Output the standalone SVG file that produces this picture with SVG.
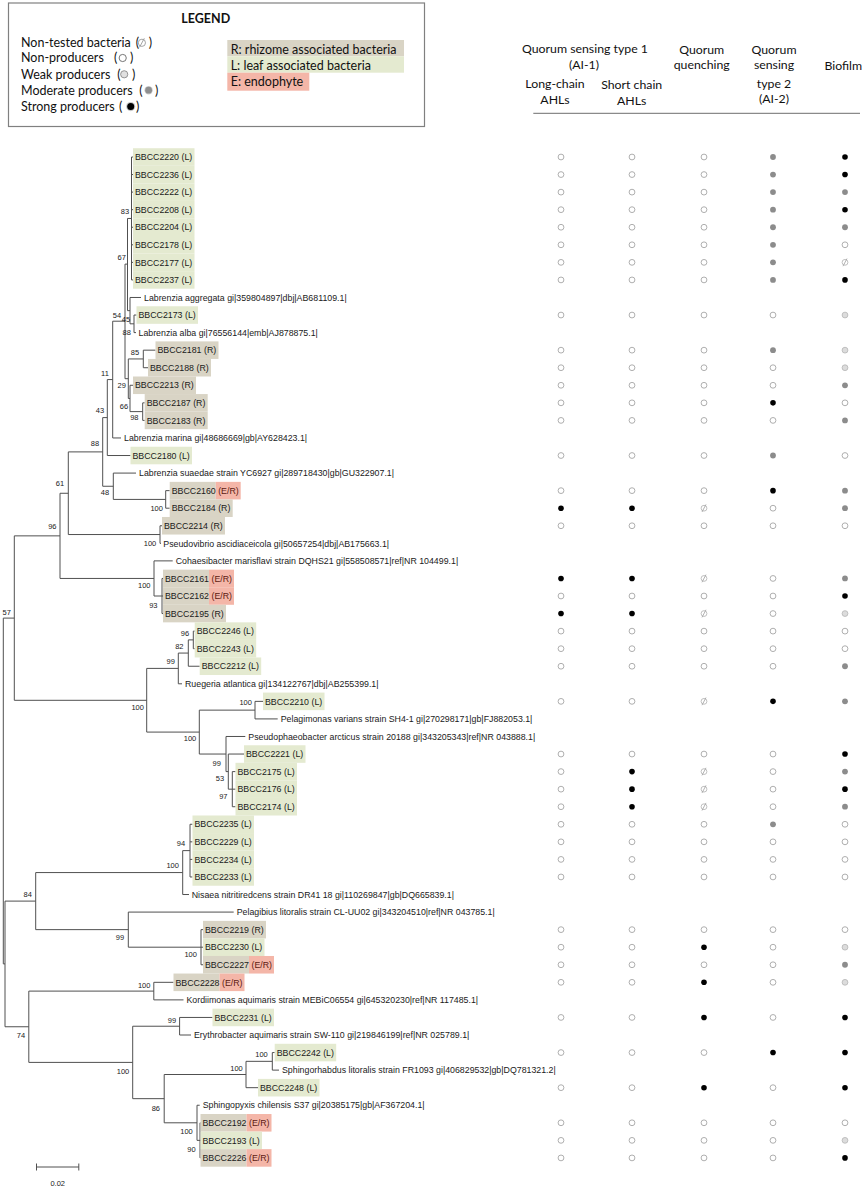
<svg xmlns="http://www.w3.org/2000/svg" xmlns:xlink="http://www.w3.org/1999/xlink" width="865" height="1191" viewBox="0 0 865 1191">
<style>
.hd{font-family:Lato,"Open Sans","Liberation Sans",sans-serif;font-size:12.3px;fill:#111;text-anchor:middle}
.lg{font-family:Lato,"Open Sans","Liberation Sans",sans-serif;font-size:12.5px;fill:#111}
.lf{font-family:"Liberation Sans",Arial,sans-serif;font-size:8.8px;fill:#1a1a1a}
.sp{font-family:"Liberation Sans",Arial,sans-serif;font-size:8.8px;fill:#1a1a1a}
.er{fill:#5c1a12}
.bs{font-family:"Liberation Sans",Arial,sans-serif;font-size:7.5px;fill:#1a1a1a;text-anchor:middle}
.bL{fill:#e4ead0}
.bR{fill:#d9d4c5}
.bE{fill:#f4b6a8}
.br{fill:none;stroke:#505050;stroke-width:1}
</style>
<defs>
<circle id="o" r="2.9" fill="#fff" stroke="#a6a6a6" stroke-width="0.9"/>
<circle id="w" r="2.9" fill="#dcdcdc" stroke="#b5b5b5" stroke-width="0.8"/>
<circle id="m" r="2.9" fill="#8c8c8c"/>
<circle id="s" r="2.8" fill="#000"/>
<g id="n"><circle r="2.9" fill="#fff" stroke="#b0b0b0" stroke-width="0.8"/><line x1="-2" y1="3.8" x2="2" y2="-3.8" stroke="#a0a0a0" stroke-width="0.8"/></g>
</defs>
<rect width="865" height="1191" fill="#fff"/>

<g id="legend">
<rect x="8.5" y="3" width="416" height="123.5" fill="#fff" stroke="#808080" stroke-width="1.2"/>
<text class="lg" x="205.7" y="23" text-anchor="middle" font-weight="bold">LEGEND</text>
<text class="lg" x="21" y="47">Non-tested bacteria</text><text class="lg" x="135.7" y="47">(</text><text class="lg" x="148.7" y="47">)</text>
<text class="lg" x="21" y="62">Non-producers</text><text class="lg" x="114" y="62">(</text><text class="lg" x="130" y="62">)</text>
<text class="lg" x="21" y="78.5">Weak producers</text><text class="lg" x="117.3" y="78.5">(</text><text class="lg" x="132" y="78.5">)</text>
<text class="lg" x="21" y="94.5">Moderate producers</text><text class="lg" x="139.3" y="94.5">(</text><text class="lg" x="155" y="94.5">)</text>
<text class="lg" x="21" y="111">Strong producers</text><text class="lg" x="119" y="111">(</text><text class="lg" x="136" y="111">)</text>
<g><circle cx="141.9" cy="42.8" r="3.6" fill="#fff" stroke="#9a9a9a" stroke-width="0.9"/><line x1="139.5" y1="47.3" x2="144.3" y2="38.3" stroke="#9a9a9a" stroke-width="0.9"/></g>
<circle cx="122.7" cy="58" r="3.6" fill="#fff" stroke="#777" stroke-width="1"/>
<circle cx="124.2" cy="74.3" r="3.6" fill="#e0e0e0" stroke="#8a8a8a" stroke-width="0.9"/>
<circle cx="148.6" cy="90.2" r="4.2" fill="#d0d0d0"/><circle cx="148.6" cy="90.2" r="3.4" fill="#8f8f8f"/>
<circle cx="130.7" cy="106.6" r="4.6" fill="#c8c8c8"/><circle cx="130.7" cy="106.6" r="3.5" fill="#000"/>
<rect class="bR" x="227.3" y="40" width="176.7" height="16.3"/>
<text class="lg" x="230.7" y="54">R: rhizome associated bacteria</text>
<rect class="bL" x="227.3" y="56.3" width="176.7" height="16.4"/>
<text class="lg" x="230.7" y="69.5">L: leaf associated bacteria</text>
<rect class="bE" x="227.3" y="72.7" width="82" height="18"/>
<text class="lg" x="230.7" y="86">E: endophyte</text>
</g>

<g id="header">
<text class="hd" x="585" y="53">Quorum sensing type 1</text>
<text class="hd" x="584" y="69">(AI-1)</text>
<text class="hd" x="555" y="87.5">Long-chain</text>
<text class="hd" x="555" y="104">AHLs</text>
<text class="hd" x="631.7" y="89">Short chain</text>
<text class="hd" x="631.7" y="105">AHLs</text>
<text class="hd" x="701.7" y="54">Quorum</text>
<text class="hd" x="701.7" y="68.5">quenching</text>
<text class="hd" x="774" y="53.5">Quorum</text>
<text class="hd" x="774" y="69">sensing</text>
<text class="hd" x="774" y="87.5">type 2</text>
<text class="hd" x="774" y="102.5">(AI-2)</text>
<text class="hd" x="843.3" y="70">Biofilm</text>
<line x1="533.3" y1="113.3" x2="860" y2="113.3" stroke="#8a8a8a" stroke-width="1.2"/>
</g>

<g id="connectors">
<path class="br" d="M3.3 618.1V963.9M3.3 618.1H14.3M3.3 963.9H5
M14.3 535.86V700.3M14.3 535.86H60M14.3 700.3H146.7
M60 493.27V578.44M60 493.27H68.3M60 578.44H154
M68.3 451.9V534.54M68.3 451.9H102.7M68.3 534.54H160
M102.7 417.6V486.25M102.7 417.6H107.3M102.7 486.25H113.3
M107.3 379.57V455.52M107.3 379.57H112.7M107.3 455.52H130.5
M112.7 321.19V437.96M112.7 321.19H125M112.7 437.96H121
M125 264.12V378.7M125 264.12H127.5M125 378.7H128.3
M127.5 218.46V310.65M127.5 218.46H131.5M127.5 310.65H130
M131.5 157V279.92M131.5 157H133M131.5 174.56H133M131.5 192.12H133M131.5 209.68H133M131.5 227.24H133M131.5 244.8H133M131.5 262.36H133M131.5 279.92H133
M130 297.48V323.82M130 297.48H141M130 323.82H134
M134 315.04V332.6M134 315.04H136.5M134 332.6H136
M128.3 358.94V398.45M128.3 358.94H143.3M128.3 398.45H130
M143.3 350.16V367.72M143.3 350.16H155.5M143.3 367.72H148
M130 385.28V411.62M130 385.28H133M130 411.62H142.7
M142.7 402.84V420.4M142.7 402.84H144.7M142.7 420.4H144.7
M113.3 473.08V499.42M113.3 473.08H136M113.3 499.42H165.7
M165.7 490.64V508.2M165.7 490.64H169.7M165.7 508.2H169.7
M160 525.76V543.32M160 525.76H162M160 543.32H161
M154 560.88V596M154 560.88H172.7M154 596H162
M162 578.44V613.56M162 578.44H163M162 596H163M162 613.56H163
M146.7 668.4V732.09M146.7 668.4H178.3M146.7 732.09H199.3
M178.3 653.07V683.8M178.3 653.07H188.3M178.3 683.8H182
M188.3 639.9V666.24M188.3 639.9H193.3M188.3 666.24H199.7
M193.3 631.12V648.68M193.3 631.12H194.7M193.3 648.68H194.7
M199.3 710.14V754.04M199.3 710.14H255M199.3 754.04H226
M255 701.36V718.92M255 701.36H263M255 718.92H277.7
M226 736.48V771.6M226 736.48H245.3M226 771.6H228.3
M228.3 754.04V789.16M228.3 754.04H244M228.3 789.16H232.3
M232.3 771.6V806.72M232.3 771.6H235.5M232.3 789.16H235.5M232.3 806.72H235.5
M5 901.1V1026.75M5 901.1H35.7M5 1026.75H28.8
M35.7 872.57V929.64M35.7 872.57H182.7M35.7 929.64H128.3
M182.7 850.62V894.52M182.7 850.62H190M182.7 894.52H189
M190 824.28V876.96M190 824.28H192.5M190 841.84H192.5M190 859.4H192.5M190 876.96H192.5
M128.3 912.08V947.2M128.3 912.08H233.7M128.3 947.2H201
M201 929.64V964.76M201 929.64H203M201 947.2H203M201 964.76H203
M28.8 991.1V1062.4M28.8 991.1H153.8M28.8 1062.4H132.7
M153.8 982.32V999.88M153.8 982.32H173.5M153.8 999.88H183.5
M132.7 1026.22V1098.66M132.7 1026.22H179.6M132.7 1098.66H164.2
M179.6 1017.44V1035M179.6 1017.44H212.5M179.6 1035H191
M164.2 1074.5V1122.8M164.2 1074.5H246M164.2 1122.8H197
M246 1061.34V1087.68M246 1061.34H272.3M246 1087.68H258
M272.3 1052.56V1070.12M272.3 1052.56H274.7M272.3 1070.12H279
M197 1105.24V1140.36M197 1105.24H199.7M197 1140.36H200
M200 1122.8V1157.92M200 1122.8H200.5M200 1140.36H200.5M200 1157.92H200.5"/>
</g>

<g id="bootstrap">
<text class="bs" x="125" y="214.2">83</text>
<text class="bs" x="121.7" y="259.9">67</text>
<text class="bs" x="117" y="318.4">54</text>
<text class="bs" x="126" y="322.4">45</text>
<text class="bs" x="126.7" y="335.4">88</text>
<text class="bs" x="135" y="354.7">85</text>
<text class="bs" x="105" y="375.8">11</text>
<text class="bs" x="121.7" y="388.1">29</text>
<text class="bs" x="124" y="409.2">66</text>
<text class="bs" x="134.3" y="419.7">98</text>
<text class="bs" x="100" y="412.7">43</text>
<text class="bs" x="95" y="446">88</text>
<text class="bs" x="60" y="486.4">61</text>
<text class="bs" x="105" y="495.2">48</text>
<text class="bs" x="156.7" y="511">100</text>
<text class="bs" x="52.3" y="528.6">96</text>
<text class="bs" x="150" y="546.1">100</text>
<text class="bs" x="144.3" y="588.3">100</text>
<text class="bs" x="153.3" y="607.6">93</text>
<text class="bs" x="6.7" y="614.6">57</text>
<text class="bs" x="185" y="635.7">96</text>
<text class="bs" x="179.3" y="649.2">82</text>
<text class="bs" x="170.7" y="664.3">99</text>
<text class="bs" x="137.7" y="710.3">100</text>
<text class="bs" x="245.7" y="705.2">100</text>
<text class="bs" x="190" y="741">100</text>
<text class="bs" x="216.7" y="765.6">99</text>
<text class="bs" x="220" y="781.4">53</text>
<text class="bs" x="223.3" y="799">97</text>
<text class="bs" x="181" y="846.4">94</text>
<text class="bs" x="172.7" y="867.5">100</text>
<text class="bs" x="27.7" y="897.3">84</text>
<text class="bs" x="120" y="939.5">99</text>
<text class="bs" x="190.7" y="957">100</text>
<text class="bs" x="144.2" y="987.8">100</text>
<text class="bs" x="172" y="1022.7">99</text>
<text class="bs" x="21" y="1037.8">74</text>
<text class="bs" x="261.5" y="1056.8">100</text>
<text class="bs" x="236.5" y="1071.2">100</text>
<text class="bs" x="123" y="1073.8">100</text>
<text class="bs" x="155.8" y="1110.7">86</text>
<text class="bs" x="186.5" y="1134.2">100</text>
<text class="bs" x="191.5" y="1151.6">90</text>
</g>

<g id="leaves">
<g id="leaf-BBCC2220"><rect class="bL" x="133" y="148.22" width="61.5" height="17.56"/><text class="lf" x="135" y="160.2">BBCC2220 (L)</text></g>
<g id="leaf-BBCC2236"><rect class="bL" x="133" y="165.78" width="61.5" height="17.56"/><text class="lf" x="135" y="177.76">BBCC2236 (L)</text></g>
<g id="leaf-BBCC2222"><rect class="bL" x="133" y="183.34" width="61.5" height="17.56"/><text class="lf" x="135" y="195.32">BBCC2222 (L)</text></g>
<g id="leaf-BBCC2208"><rect class="bL" x="133" y="200.9" width="61.5" height="17.56"/><text class="lf" x="135" y="212.88">BBCC2208 (L)</text></g>
<g id="leaf-BBCC2204"><rect class="bL" x="133" y="218.46" width="61.5" height="17.56"/><text class="lf" x="135" y="230.44">BBCC2204 (L)</text></g>
<g id="leaf-BBCC2178"><rect class="bL" x="133" y="236.02" width="61.5" height="17.56"/><text class="lf" x="135" y="248">BBCC2178 (L)</text></g>
<g id="leaf-BBCC2177"><rect class="bL" x="133" y="253.58" width="61.5" height="17.56"/><text class="lf" x="135" y="265.56">BBCC2177 (L)</text></g>
<g id="leaf-BBCC2237"><rect class="bL" x="133" y="271.14" width="61.5" height="17.56"/><text class="lf" x="135" y="283.12">BBCC2237 (L)</text></g>
<g id="leaf-aggregata"><text class="sp" x="144" y="300.68">Labrenzia aggregata gi|359804897|dbj|AB681109.1|</text></g>
<g id="leaf-BBCC2173"><rect class="bL" x="136.5" y="306.26" width="61.5" height="17.56"/><text class="lf" x="138.5" y="318.24">BBCC2173 (L)</text></g>
<g id="leaf-alba"><text class="sp" x="138.5" y="335.8">Labrenzia alba gi|76556144|emb|AJ878875.1|</text></g>
<g id="leaf-BBCC2181"><rect class="bR" x="155.5" y="341.38" width="63" height="17.56"/><text class="lf" x="157.5" y="353.36">BBCC2181 (R)</text></g>
<g id="leaf-BBCC2188"><rect class="bR" x="148" y="358.94" width="63" height="17.56"/><text class="lf" x="150" y="370.92">BBCC2188 (R)</text></g>
<g id="leaf-BBCC2213"><rect class="bR" x="133" y="376.5" width="63" height="17.56"/><text class="lf" x="135" y="388.48">BBCC2213 (R)</text></g>
<g id="leaf-BBCC2187"><rect class="bR" x="144.7" y="394.06" width="63" height="17.56"/><text class="lf" x="146.7" y="406.04">BBCC2187 (R)</text></g>
<g id="leaf-BBCC2183"><rect class="bR" x="144.7" y="411.62" width="63" height="17.56"/><text class="lf" x="146.7" y="423.6">BBCC2183 (R)</text></g>
<g id="leaf-marina"><text class="sp" x="124" y="441.16">Labrenzia marina gi|48686669|gb|AY628423.1|</text></g>
<g id="leaf-BBCC2180"><rect class="bL" x="130.5" y="446.74" width="61.5" height="17.56"/><text class="lf" x="132.5" y="458.72">BBCC2180 (L)</text></g>
<g id="leaf-suaedae"><text class="sp" x="139" y="476.28">Labrenzia suaedae strain YC6927 gi|289718430|gb|GU322907.1|</text></g>
<g id="leaf-BBCC2160"><rect class="bR" x="169.7" y="481.86" width="46" height="17.56"/><rect class="bE" x="215.7" y="481.86" width="25" height="17.56"/><text class="lf" x="171.7" y="493.84">BBCC2160 <tspan class="er">(E/R)</tspan></text></g>
<g id="leaf-BBCC2184"><rect class="bR" x="169.7" y="499.42" width="63" height="17.56"/><text class="lf" x="171.7" y="511.4">BBCC2184 (R)</text></g>
<g id="leaf-BBCC2214"><rect class="bR" x="162" y="516.98" width="63" height="17.56"/><text class="lf" x="164" y="528.96">BBCC2214 (R)</text></g>
<g id="leaf-pseudovibrio"><text class="sp" x="163.3" y="546.52">Pseudovibrio ascidiaceicola gi|50657254|dbj|AB175663.1|</text></g>
<g id="leaf-cohaesibacter"><text class="sp" x="175.7" y="564.08">Cohaesibacter marisflavi strain DQHS21 gi|558508571|ref|NR 104499.1|</text></g>
<g id="leaf-BBCC2161"><rect class="bR" x="163" y="569.66" width="46" height="17.56"/><rect class="bE" x="209" y="569.66" width="25" height="17.56"/><text class="lf" x="165" y="581.64">BBCC2161 <tspan class="er">(E/R)</tspan></text></g>
<g id="leaf-BBCC2162"><rect class="bR" x="163" y="587.22" width="46" height="17.56"/><rect class="bE" x="209" y="587.22" width="25" height="17.56"/><text class="lf" x="165" y="599.2">BBCC2162 <tspan class="er">(E/R)</tspan></text></g>
<g id="leaf-BBCC2195"><rect class="bR" x="163" y="604.78" width="63" height="17.56"/><text class="lf" x="165" y="616.76">BBCC2195 (R)</text></g>
<g id="leaf-BBCC2246"><rect class="bL" x="194.7" y="622.34" width="61.5" height="17.56"/><text class="lf" x="196.7" y="634.32">BBCC2246 (L)</text></g>
<g id="leaf-BBCC2243"><rect class="bL" x="194.7" y="639.9" width="61.5" height="17.56"/><text class="lf" x="196.7" y="651.88">BBCC2243 (L)</text></g>
<g id="leaf-BBCC2212"><rect class="bL" x="199.7" y="657.46" width="61.5" height="17.56"/><text class="lf" x="201.7" y="669.44">BBCC2212 (L)</text></g>
<g id="leaf-ruegeria"><text class="sp" x="185" y="687">Ruegeria atlantica gi|134122767|dbj|AB255399.1|</text></g>
<g id="leaf-BBCC2210"><rect class="bL" x="263" y="692.58" width="61.5" height="17.56"/><text class="lf" x="265" y="704.56">BBCC2210 (L)</text></g>
<g id="leaf-pelagimonas"><text class="sp" x="280.7" y="722.12">Pelagimonas varians strain SH4-1 gi|270298171|gb|FJ882053.1|</text></g>
<g id="leaf-pseudophaeobacter"><text class="sp" x="248.3" y="739.68">Pseudophaeobacter arcticus strain 20188 gi|343205343|ref|NR 043888.1|</text></g>
<g id="leaf-BBCC2221"><rect class="bL" x="244" y="745.26" width="61.5" height="17.56"/><text class="lf" x="246" y="757.24">BBCC2221 (L)</text></g>
<g id="leaf-BBCC2175"><rect class="bL" x="235.5" y="762.82" width="61.5" height="17.56"/><text class="lf" x="237.5" y="774.8">BBCC2175 (L)</text></g>
<g id="leaf-BBCC2176"><rect class="bL" x="235.5" y="780.38" width="61.5" height="17.56"/><text class="lf" x="237.5" y="792.36">BBCC2176 (L)</text></g>
<g id="leaf-BBCC2174"><rect class="bL" x="235.5" y="797.94" width="61.5" height="17.56"/><text class="lf" x="237.5" y="809.92">BBCC2174 (L)</text></g>
<g id="leaf-BBCC2235"><rect class="bL" x="192.5" y="815.5" width="61.5" height="17.56"/><text class="lf" x="194.5" y="827.48">BBCC2235 (L)</text></g>
<g id="leaf-BBCC2229"><rect class="bL" x="192.5" y="833.06" width="61.5" height="17.56"/><text class="lf" x="194.5" y="845.04">BBCC2229 (L)</text></g>
<g id="leaf-BBCC2234"><rect class="bL" x="192.5" y="850.62" width="61.5" height="17.56"/><text class="lf" x="194.5" y="862.6">BBCC2234 (L)</text></g>
<g id="leaf-BBCC2233"><rect class="bL" x="192.5" y="868.18" width="61.5" height="17.56"/><text class="lf" x="194.5" y="880.16">BBCC2233 (L)</text></g>
<g id="leaf-nisaea"><text class="sp" x="191.7" y="897.72">Nisaea nitritiredcens strain DR41 18 gi|110269847|gb|DQ665839.1|</text></g>
<g id="leaf-pelagibius"><text class="sp" x="236.7" y="915.28">Pelagibius litoralis strain CL-UU02 gi|343204510|ref|NR 043785.1|</text></g>
<g id="leaf-BBCC2219"><rect class="bR" x="203" y="920.86" width="63" height="17.56"/><text class="lf" x="205" y="932.84">BBCC2219 (R)</text></g>
<g id="leaf-BBCC2230"><rect class="bL" x="203" y="938.42" width="61.5" height="17.56"/><text class="lf" x="205" y="950.4">BBCC2230 (L)</text></g>
<g id="leaf-BBCC2227"><rect class="bR" x="203" y="955.98" width="46" height="17.56"/><rect class="bE" x="249" y="955.98" width="25" height="17.56"/><text class="lf" x="205" y="967.96">BBCC2227 <tspan class="er">(E/R)</tspan></text></g>
<g id="leaf-BBCC2228"><rect class="bR" x="173.5" y="973.54" width="46" height="17.56"/><rect class="bE" x="219.5" y="973.54" width="25" height="17.56"/><text class="lf" x="175.5" y="985.52">BBCC2228 <tspan class="er">(E/R)</tspan></text></g>
<g id="leaf-kordiimonas"><text class="sp" x="186.5" y="1003.08">Kordiimonas aquimaris strain MEBiC06554 gi|645320230|ref|NR 117485.1|</text></g>
<g id="leaf-BBCC2231"><rect class="bL" x="212.5" y="1008.66" width="61.5" height="17.56"/><text class="lf" x="214.5" y="1020.64">BBCC2231 (L)</text></g>
<g id="leaf-erythrobacter"><text class="sp" x="194" y="1038.2">Erythrobacter aquimaris strain SW-110 gi|219846199|ref|NR 025789.1|</text></g>
<g id="leaf-BBCC2242"><rect class="bL" x="274.7" y="1043.78" width="61.5" height="17.56"/><text class="lf" x="276.7" y="1055.76">BBCC2242 (L)</text></g>
<g id="leaf-sphingorhabdus"><text class="sp" x="282" y="1073.32">Sphingorhabdus litoralis strain FR1093 gi|406829532|gb|DQ781321.2|</text></g>
<g id="leaf-BBCC2248"><rect class="bL" x="258" y="1078.9" width="61.5" height="17.56"/><text class="lf" x="260" y="1090.88">BBCC2248 (L)</text></g>
<g id="leaf-sphingopyxis"><text class="sp" x="202.7" y="1108.44">Sphingopyxis chilensis S37 gi|20385175|gb|AF367204.1|</text></g>
<g id="leaf-BBCC2192"><rect class="bR" x="200.5" y="1114.02" width="46" height="17.56"/><rect class="bE" x="246.5" y="1114.02" width="25" height="17.56"/><text class="lf" x="202.5" y="1126">BBCC2192 <tspan class="er">(E/R)</tspan></text></g>
<g id="leaf-BBCC2193"><rect class="bL" x="200.5" y="1131.58" width="61.5" height="17.56"/><text class="lf" x="202.5" y="1143.56">BBCC2193 (L)</text></g>
<g id="leaf-BBCC2226"><rect class="bR" x="200.5" y="1149.14" width="46" height="17.56"/><rect class="bE" x="246.5" y="1149.14" width="25" height="17.56"/><text class="lf" x="202.5" y="1161.12">BBCC2226 <tspan class="er">(E/R)</tspan></text></g>
</g>

<g id="scale-bar">
<path class="br" d="M36.5 1167H78.8M36.5 1163.5V1170.5M78.8 1163.5V1170.5"/>
<text class="bs" x="57.7" y="1186">0.02</text>
</g>

<g id="traits">
<g transform="translate(0,157)"><use href="#o" x="561"/><use href="#o" x="632"/><use href="#o" x="704"/><use href="#m" x="773"/><use href="#s" x="845"/></g>
<g transform="translate(0,174.56)"><use href="#o" x="561"/><use href="#o" x="632"/><use href="#o" x="704"/><use href="#m" x="773"/><use href="#s" x="845"/></g>
<g transform="translate(0,192.12)"><use href="#o" x="561"/><use href="#o" x="632"/><use href="#o" x="704"/><use href="#m" x="773"/><use href="#m" x="845"/></g>
<g transform="translate(0,209.68)"><use href="#o" x="561"/><use href="#o" x="632"/><use href="#o" x="704"/><use href="#m" x="773"/><use href="#s" x="845"/></g>
<g transform="translate(0,227.24)"><use href="#o" x="561"/><use href="#o" x="632"/><use href="#o" x="704"/><use href="#m" x="773"/><use href="#m" x="845"/></g>
<g transform="translate(0,244.8)"><use href="#o" x="561"/><use href="#o" x="632"/><use href="#o" x="704"/><use href="#m" x="773"/><use href="#o" x="845"/></g>
<g transform="translate(0,262.36)"><use href="#o" x="561"/><use href="#o" x="632"/><use href="#o" x="704"/><use href="#m" x="773"/><use href="#n" x="845"/></g>
<g transform="translate(0,279.92)"><use href="#o" x="561"/><use href="#o" x="632"/><use href="#o" x="704"/><use href="#m" x="773"/><use href="#s" x="845"/></g>
<g transform="translate(0,315.04)"><use href="#o" x="561"/><use href="#o" x="632"/><use href="#o" x="704"/><use href="#o" x="773"/><use href="#w" x="845"/></g>
<g transform="translate(0,350.16)"><use href="#o" x="561"/><use href="#o" x="632"/><use href="#o" x="704"/><use href="#m" x="773"/><use href="#w" x="845"/></g>
<g transform="translate(0,367.72)"><use href="#o" x="561"/><use href="#o" x="632"/><use href="#o" x="704"/><use href="#o" x="773"/><use href="#w" x="845"/></g>
<g transform="translate(0,385.28)"><use href="#o" x="561"/><use href="#o" x="632"/><use href="#o" x="704"/><use href="#o" x="773"/><use href="#m" x="845"/></g>
<g transform="translate(0,402.84)"><use href="#o" x="561"/><use href="#o" x="632"/><use href="#o" x="704"/><use href="#s" x="773"/><use href="#o" x="845"/></g>
<g transform="translate(0,420.4)"><use href="#o" x="561"/><use href="#o" x="632"/><use href="#o" x="704"/><use href="#o" x="773"/><use href="#m" x="845"/></g>
<g transform="translate(0,455.52)"><use href="#o" x="561"/><use href="#o" x="632"/><use href="#o" x="704"/><use href="#m" x="773"/><use href="#o" x="845"/></g>
<g transform="translate(0,490.64)"><use href="#o" x="561"/><use href="#o" x="632"/><use href="#o" x="704"/><use href="#s" x="773"/><use href="#m" x="845"/></g>
<g transform="translate(0,508.2)"><use href="#s" x="561"/><use href="#s" x="632"/><use href="#n" x="704"/><use href="#o" x="773"/><use href="#m" x="845"/></g>
<g transform="translate(0,525.76)"><use href="#o" x="561"/><use href="#o" x="632"/><use href="#o" x="704"/><use href="#o" x="773"/><use href="#o" x="845"/></g>
<g transform="translate(0,578.44)"><use href="#s" x="561"/><use href="#s" x="632"/><use href="#n" x="704"/><use href="#o" x="773"/><use href="#m" x="845"/></g>
<g transform="translate(0,596)"><use href="#o" x="561"/><use href="#o" x="632"/><use href="#o" x="704"/><use href="#o" x="773"/><use href="#s" x="845"/></g>
<g transform="translate(0,613.56)"><use href="#s" x="561"/><use href="#s" x="632"/><use href="#n" x="704"/><use href="#o" x="773"/><use href="#w" x="845"/></g>
<g transform="translate(0,631.12)"><use href="#o" x="561"/><use href="#o" x="632"/><use href="#o" x="704"/><use href="#o" x="773"/><use href="#o" x="845"/></g>
<g transform="translate(0,648.68)"><use href="#o" x="561"/><use href="#o" x="632"/><use href="#o" x="704"/><use href="#o" x="773"/><use href="#o" x="845"/></g>
<g transform="translate(0,666.24)"><use href="#o" x="561"/><use href="#o" x="632"/><use href="#o" x="704"/><use href="#o" x="773"/><use href="#m" x="845"/></g>
<g transform="translate(0,701.36)"><use href="#o" x="561"/><use href="#o" x="632"/><use href="#n" x="704"/><use href="#s" x="773"/><use href="#m" x="845"/></g>
<g transform="translate(0,754.04)"><use href="#o" x="561"/><use href="#o" x="632"/><use href="#o" x="704"/><use href="#o" x="773"/><use href="#s" x="845"/></g>
<g transform="translate(0,771.6)"><use href="#o" x="561"/><use href="#s" x="632"/><use href="#n" x="704"/><use href="#o" x="773"/><use href="#m" x="845"/></g>
<g transform="translate(0,789.16)"><use href="#o" x="561"/><use href="#s" x="632"/><use href="#n" x="704"/><use href="#o" x="773"/><use href="#s" x="845"/></g>
<g transform="translate(0,806.72)"><use href="#o" x="561"/><use href="#s" x="632"/><use href="#n" x="704"/><use href="#o" x="773"/><use href="#m" x="845"/></g>
<g transform="translate(0,824.28)"><use href="#o" x="561"/><use href="#o" x="632"/><use href="#o" x="704"/><use href="#m" x="773"/><use href="#o" x="845"/></g>
<g transform="translate(0,841.84)"><use href="#o" x="561"/><use href="#o" x="632"/><use href="#o" x="704"/><use href="#o" x="773"/><use href="#o" x="845"/></g>
<g transform="translate(0,859.4)"><use href="#o" x="561"/><use href="#o" x="632"/><use href="#o" x="704"/><use href="#o" x="773"/><use href="#o" x="845"/></g>
<g transform="translate(0,876.96)"><use href="#o" x="561"/><use href="#o" x="632"/><use href="#o" x="704"/><use href="#o" x="773"/><use href="#o" x="845"/></g>
<g transform="translate(0,929.64)"><use href="#o" x="561"/><use href="#o" x="632"/><use href="#o" x="704"/><use href="#o" x="773"/><use href="#o" x="845"/></g>
<g transform="translate(0,947.2)"><use href="#o" x="561"/><use href="#o" x="632"/><use href="#s" x="704"/><use href="#o" x="773"/><use href="#w" x="845"/></g>
<g transform="translate(0,964.76)"><use href="#o" x="561"/><use href="#o" x="632"/><use href="#o" x="704"/><use href="#o" x="773"/><use href="#m" x="845"/></g>
<g transform="translate(0,982.32)"><use href="#o" x="561"/><use href="#o" x="632"/><use href="#s" x="704"/><use href="#o" x="773"/><use href="#w" x="845"/></g>
<g transform="translate(0,1017.44)"><use href="#o" x="561"/><use href="#o" x="632"/><use href="#s" x="704"/><use href="#o" x="773"/><use href="#s" x="845"/></g>
<g transform="translate(0,1052.56)"><use href="#o" x="561"/><use href="#o" x="632"/><use href="#o" x="704"/><use href="#s" x="773"/><use href="#s" x="845"/></g>
<g transform="translate(0,1087.68)"><use href="#o" x="561"/><use href="#o" x="632"/><use href="#s" x="704"/><use href="#o" x="773"/><use href="#s" x="845"/></g>
<g transform="translate(0,1122.8)"><use href="#o" x="561"/><use href="#o" x="632"/><use href="#o" x="704"/><use href="#o" x="773"/><use href="#o" x="845"/></g>
<g transform="translate(0,1140.36)"><use href="#o" x="561"/><use href="#o" x="632"/><use href="#o" x="704"/><use href="#o" x="773"/><use href="#w" x="845"/></g>
<g transform="translate(0,1157.92)"><use href="#o" x="561"/><use href="#o" x="632"/><use href="#o" x="704"/><use href="#o" x="773"/><use href="#s" x="845"/></g>
</g>
</svg>
